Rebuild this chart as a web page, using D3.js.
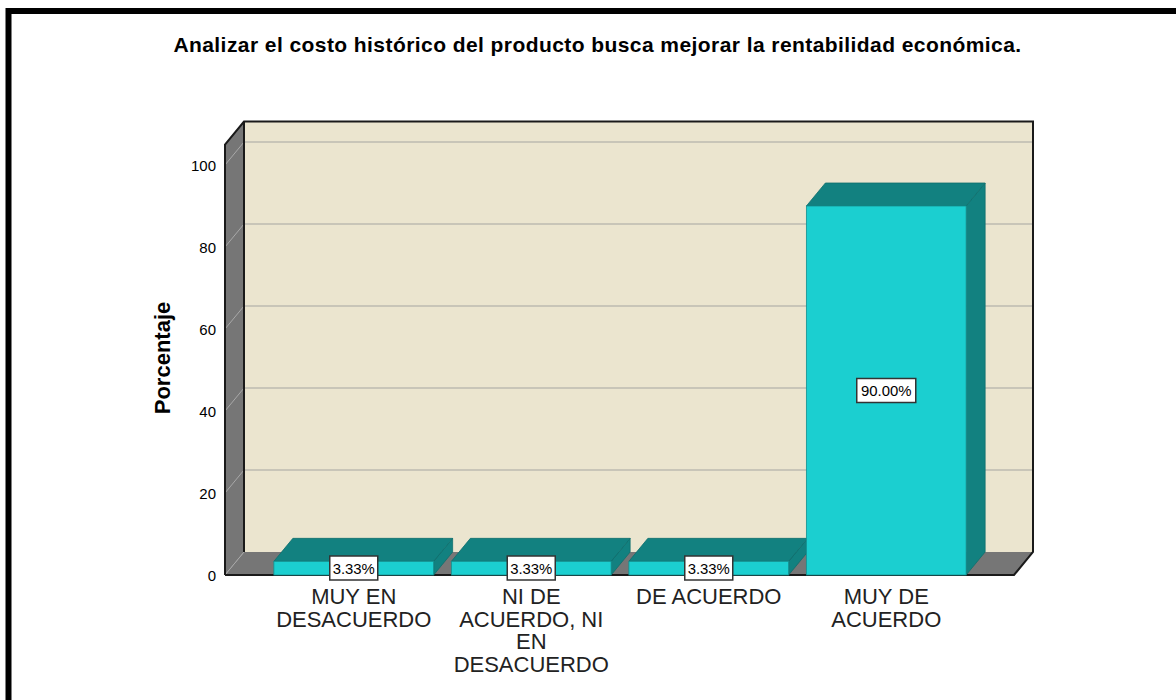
<!DOCTYPE html>
<html><head><meta charset="utf-8">
<script src="https://cdn.jsdelivr.net/npm/d3@7/dist/d3.min.js"></script>
<style>html,body{margin:0;padding:0;background:#fff;overflow:hidden}svg{display:block}text{font-family:"Liberation Sans",Arial,sans-serif}</style>
</head><body><svg id="c" width="1176" height="700"></svg>
<script>
const titleText = "Analizar el costo histórico del producto busca mejorar la rentabilidad económica.";
const yTitle = "Porcentaje";
const categories = ["MUY EN DESACUERDO","NI DE ACUERDO, NI EN DESACUERDO","DE ACUERDO","MUY DE ACUERDO"];
const categoryLines = [["MUY EN","DESACUERDO"],["NI DE","ACUERDO, NI","EN","DESACUERDO"],["DE ACUERDO"],["MUY DE","ACUERDO"]];
const values = [3.33,3.33,3.33,90.00];
const yTicks = [0,20,40,60,80,100];

const svg = d3.select("#c");
const dx = 19, dy = -23;
const x = d3.scaleBand().domain(categories).range([265,975]).paddingInner(0.1).paddingOuter(0.05);
const y = d3.scaleLinear().domain([0,105]).range([575,144.5]);
const left = 225, right = 1014, base = y(0), top_ = y(105);
const pts = a => a.map(p=>p.join(",")).join(" ");

// frame
svg.append("path").attr("d","M8.5,700V11H1176").attr("fill","none").attr("stroke","#000").attr("stroke-width",6);

// title
svg.append("text").attr("x",597.5).attr("y",52).attr("text-anchor","middle").attr("font-size",21).attr("letter-spacing",0.43).attr("font-weight","bold").attr("fill","#000").text(titleText);

// walls
svg.append("polygon").attr("points",pts([[left+dx,top_+dy],[right+dx,top_+dy],[right+dx,base+dy],[left+dx,base+dy]])).attr("fill","#ebe5cf");
svg.append("polygon").attr("points",pts([[left,top_],[left+dx,top_+dy],[left+dx,base+dy],[left,base]])).attr("fill","#767676");
svg.append("polygon").attr("points",pts([[left,base],[left+dx,base+dy],[right+dx,base+dy],[right,base]])).attr("fill","#767676");

// gridlines
yTicks.forEach(t=>{
  const g = svg.append("g");
  if(t>0) g.append("line").attr("x1",left+dx).attr("x2",right+dx).attr("y1",y(t)+dy).attr("y2",y(t)+dy).attr("stroke","#bdbab0").attr("stroke-width",1.6);
  g.append("line").attr("x1",left).attr("x2",left+dx).attr("y1",y(t)).attr("y2",y(t)+dy).attr("stroke","#a8a8a8").attr("stroke-width",1);
});

// wall outlines
svg.append("path").attr("d",`M${left},${base}V${top_}L${left+dx},${top_+dy}H${right+dx}V${base+dy}L${right},${base}H${left}`).attr("fill","none").attr("stroke","#1a1a1a").attr("stroke-width",2);
svg.append("path").attr("d",`M${left+dx},${top_+dy}V${base+dy}`).attr("fill","none").attr("stroke","#1a1a1a").attr("stroke-width",2);

// bars
const bars = svg.append("g").selectAll("g").data(categories).join("g");
bars.each(function(c,i){
  const g = d3.select(this), x0 = x(c), x1 = x0+x.bandwidth(), yt = y(values[i]);
  g.append("polygon").attr("points",pts([[x1,yt],[x1+dx,yt+dy],[x1+dx,base+dy],[x1,base]])).attr("fill","#128180").attr("stroke","#0f6e6d").attr("stroke-width",0.8);
  g.append("polygon").attr("points",pts([[x0,yt],[x0+dx,yt+dy],[x1+dx,yt+dy],[x1,yt]])).attr("fill","#128180").attr("stroke","#0f6e6d").attr("stroke-width",0.8);
  g.append("rect").attr("x",x0).attr("y",yt).attr("width",x.bandwidth()).attr("height",base-yt).attr("fill","#1bcfd0").attr("stroke","#14908f").attr("stroke-width",0.8);
});

// y axis
const axis = d3.axisLeft(y).tickValues(yTicks).tickSize(0).tickPadding(9).tickFormat(d3.format("d"));
const ag = svg.append("g").attr("transform",`translate(${left},1)`).call(axis);
ag.select(".domain").remove();
ag.selectAll("text").attr("font-size",15).attr("fill","#000").style("font-family",'"Liberation Sans",Arial,sans-serif');

svg.append("text").attr("transform","translate(170,358) rotate(-90)").attr("text-anchor","middle").attr("font-size",22).attr("font-weight","bold").attr("fill","#000").text(yTitle);

// category labels
categories.forEach((c,i)=>{
  const t = svg.append("text").attr("text-anchor","middle").attr("font-size",22).attr("fill","#222");
  categoryLines[i].forEach((l,j)=>t.append("tspan").attr("x",x(c)+x.bandwidth()/2).attr("y",604+j*22.6).text(l));
});

// value labels
categories.forEach((c,i)=>{
  const cx = x(c)+x.bandwidth()/2, cy = i===3 ? y(values[i])/2+base/2 : 568;
  const w = i===3 ? 59 : 48, h = 24;
  svg.append("rect").attr("x",cx-w/2).attr("y",cy-h/2).attr("width",w).attr("height",h).attr("fill","#fff").attr("stroke","#333").attr("stroke-width",1.5);
  svg.append("text").attr("x",cx).attr("y",cy+5.5).attr("text-anchor","middle").attr("font-size",14.9).attr("fill","#000").text(values[i].toFixed(2)+"%");
});
</script></body></html>
